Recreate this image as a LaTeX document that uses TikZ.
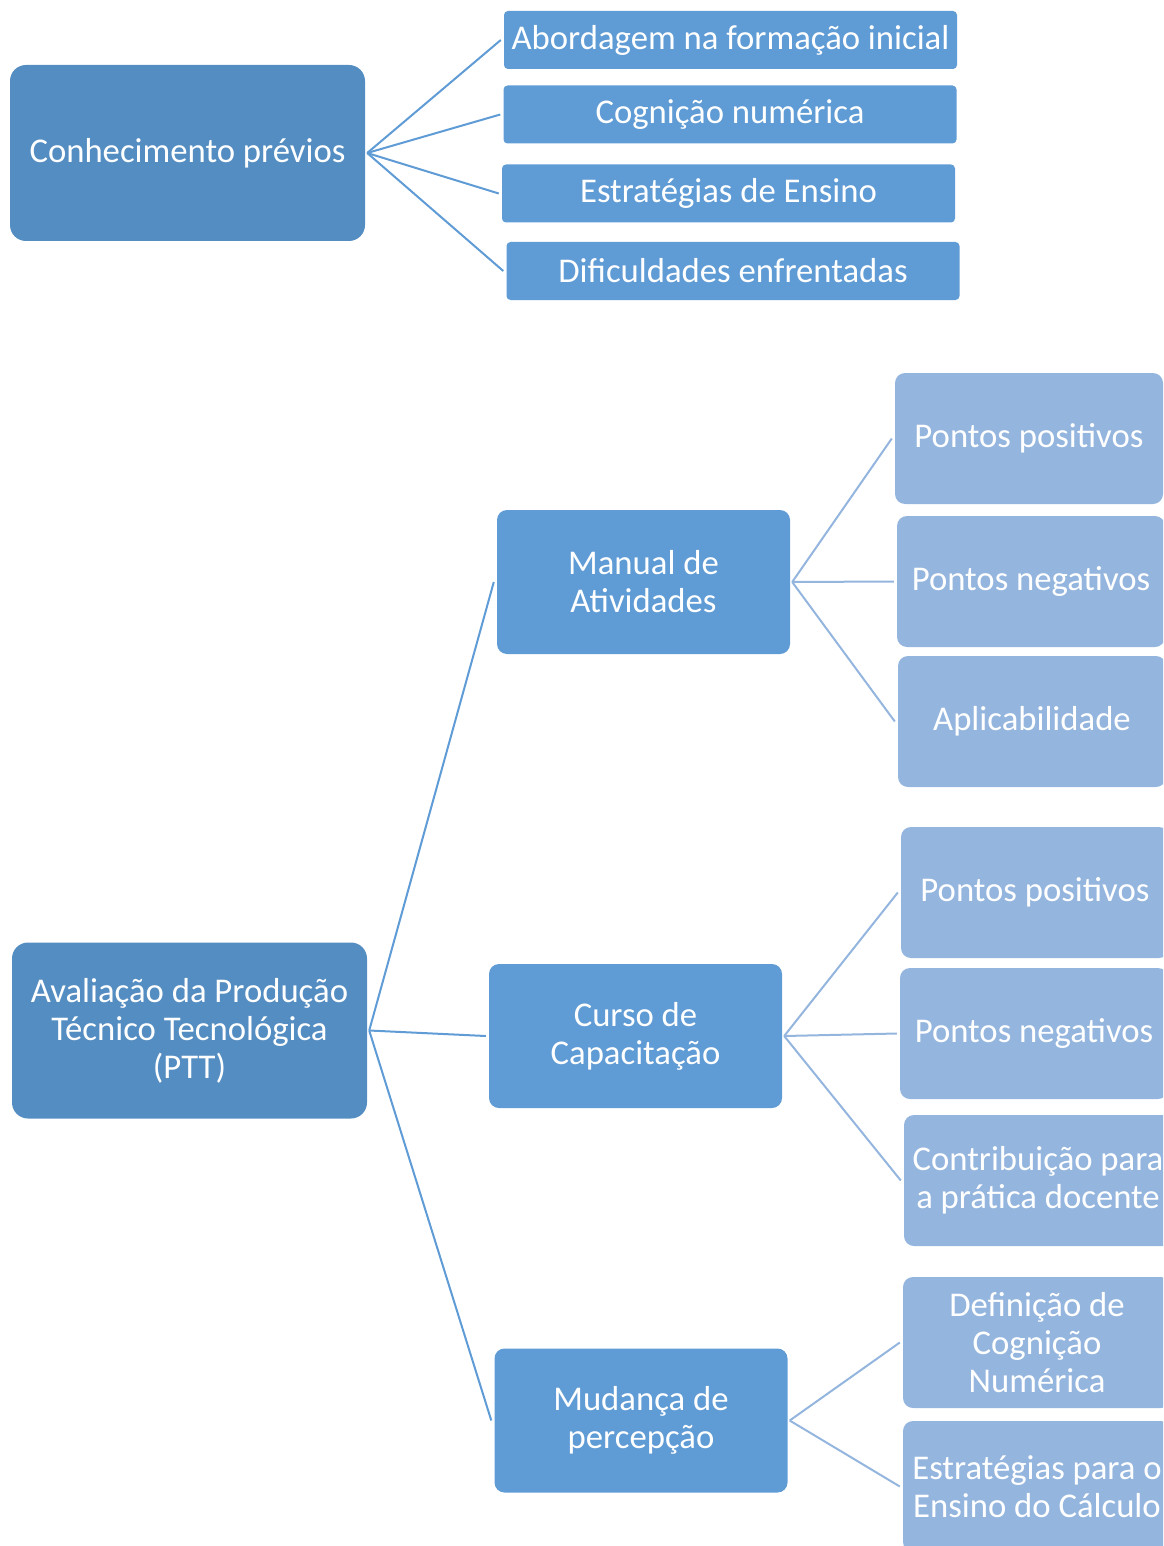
\documentclass[tikz,border=0pt]{standalone}
\usepackage{fontspec}
\setmainfont{Carlito}
\definecolor{rootblue}{RGB}{84,141,194}
\definecolor{midblue}{RGB}{95,155,213}
\definecolor{leafblue}{RGB}{148,181,222}
\tikzset{
  box/.style={fill=#1, text=white, align=center, inner sep=0pt,
    font=\fontsize{34.7}{38}\selectfont},
  rootbox/.style={box=rootblue, rounded corners=16pt, minimum width=355pt, minimum height=176pt},
  topicbox/.style={box=midblue, rounded corners=4pt, minimum width=453pt, minimum height=58pt},
  subbox/.style={box=midblue, rounded corners=10pt, minimum width=293pt, minimum height=144pt},
  leafbox/.style={box=leafblue, rounded corners=10pt, minimum width=268pt, minimum height=131pt},
  link/.style={draw=midblue, line width=2pt},
  leaflink/.style={draw=leafblue, line width=2pt}
}
\begin{document}
\begin{tikzpicture}[x=1pt, y=-1pt]
	\useasboundingbox (0,0) rectangle (1163,1546);
	\clip (0,0) rectangle (1163,1546);
	
	% top part
	\node [rootbox] (prev) at (187.5,153) {Conhecimento prévios};
	\node [topicbox] (abord) at (730.5,40) {Abordagem na formação inicial};
	\node [topicbox] (cogn) at (730,114.5) {Cognição numérica};
	\node [topicbox] (estr) at (728.5,193.5) {Estratégias de Ensino};
	\node [topicbox] (dific) at (733,271) {Dificuldades enfrentadas};
	\foreach \t in {abord,cogn,estr,dific}
		\draw [link] ([xshift=2pt]prev.east) -- ([xshift=-3pt]\t.west);
	
	% lower part
	\node [rootbox] (ptt) at (189.5,1030.5) {Avaliação da Produção\\Técnico Tecnológica\\(PTT)};
	\node [subbox] (manual) at (643.5,582) {Manual de\\Atividades};
	\node [subbox] (curso) at (635.5,1036) {Curso de\\Capacitação};
	\node [subbox] (mudanca) at (641,1420.5) {Mudança de\\percepção};
	\foreach \t in {manual,curso,mudanca}
		\draw [link] ([xshift=2pt]ptt.east) -- ([xshift=-3pt]\t.west);
	
	\node [leafbox] (pos1) at (1029,438.5) {Pontos positivos};
	\node [leafbox] (neg1) at (1031,581.5) {Pontos negativos};
	\node [leafbox] (aplic) at (1032,721.5) {Aplicabilidade};
	\foreach \t in {pos1,neg1,aplic}
		\draw [leaflink] ([xshift=2pt]manual.east) -- ([xshift=-3pt]\t.west);
	
	\node [leafbox] (pos2) at (1035,892.5) {Pontos positivos};
	\node [leafbox] (neg2) at (1034,1033.5) {Pontos negativos};
	\node [leafbox] (contr) at (1038,1180.5) {Contribuição para\\a prática docente};
	\foreach \t in {pos2,neg2,contr}
		\draw [leaflink] ([xshift=2pt]curso.east) -- ([xshift=-3pt]\t.west);
	
	\node [leafbox] (defin) at (1037,1342.5) {Definição de\\Cognição\\Numérica};
	\node [leafbox] (ensino) at (1037,1486.5) {Estratégias para o\\Ensino do Cálculo};
	\foreach \t in {defin,ensino}
		\draw [leaflink] ([xshift=2pt]mudanca.east) -- ([xshift=-3pt]\t.west);
\end{tikzpicture}
\end{document}
